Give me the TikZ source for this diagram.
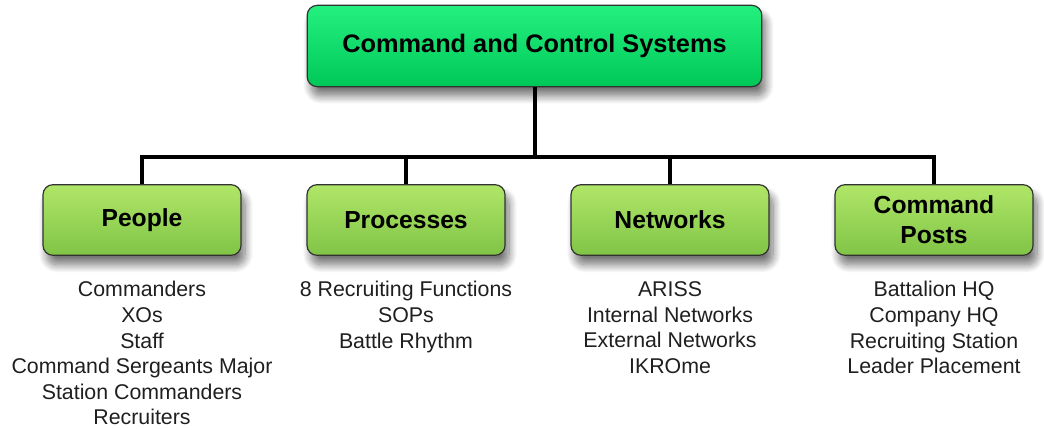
\documentclass[tikz,border=0pt]{standalone}
\usepackage{fontspec}
\setmainfont{Liberation Sans}
\usetikzlibrary{positioning, shadows.blur}
\definecolor{topgreen}{RGB}{36,240,128}
\definecolor{botgreen}{RGB}{0,200,88}
\definecolor{toplime}{RGB}{176,230,104}
\definecolor{botlime}{RGB}{128,196,70}
\definecolor{edgegray}{RGB}{50,50,50}
\tikzstyle{mainbox} = [rectangle, rounded corners=7.5pt,
minimum width=341pt,
minimum height=61pt,
text centered,
draw=edgegray, line width=0.9pt,
top color=topgreen, bottom color=botgreen,
blur shadow={shadow xshift=3pt, shadow yshift=-7pt, shadow blur steps=12, shadow blur radius=6pt, shadow opacity=55},
font=\fontsize{19}{22}\selectfont\bfseries]
\tikzstyle{part} = [rectangle, rounded corners=7.5pt,
minimum width=148.5pt,
minimum height=53pt,
text centered,
align=center,
draw=edgegray, line width=0.9pt,
top color=toplime, bottom color=botlime,
blur shadow={shadow xshift=3pt, shadow yshift=-7pt, shadow blur steps=12, shadow blur radius=6pt, shadow opacity=55},
font=\fontsize{18.5}{22.5}\selectfont\bfseries]
\tikzstyle{items} = [inner sep=0pt, align=center, text=black!88,
font=\fontsize{16}{19.2}\selectfont] % list under each box
\tikzstyle{line} = [line width=3pt, line join=miter]

\begin{document}
\begin{tikzpicture}[x=0.75pt, y=0.75pt]
			\useasboundingbox (0,0) rectangle (1044,429);
			\node (ccs) [mainbox] at (534.5,383) {Command and Control Systems};
			\node (people) [part] at (142,209) {People};
			\node (procs) [part] at (406,209) {Processes};
			\node (nets) [part] at (670,209) {Networks};
			\node (posts) [part] at (934,209) {Command\\Posts};
			\coordinate (bar) at (534.5,272);

			\node (peoplelist) [items, below=19pt of people] {Commanders\\XOs\\Staff\\Command Sergeants Major\\Station Commanders\\Recruiters};
			\node (procslist) [items, below=19pt of procs] {8 Recruiting Functions\\SOPs\\Battle Rhythm};
			\node (netslist) [items, below=19pt of nets] {ARISS\\Internal Networks\\External Networks\\IKROme};
			\node (postslist) [items, below=19pt of posts] {Battalion HQ\\Company HQ\\Recruiting Station\\Leader Placement};

			\draw[line] (ccs.south) -- (bar);
			\draw[line] (people.north) |- (bar -| posts.north) -- (posts.north);
			\draw[line] (procs.north) -- (procs.north |- bar);
			\draw[line] (nets.north) -- (nets.north |- bar);
		\end{tikzpicture}
\end{document}
